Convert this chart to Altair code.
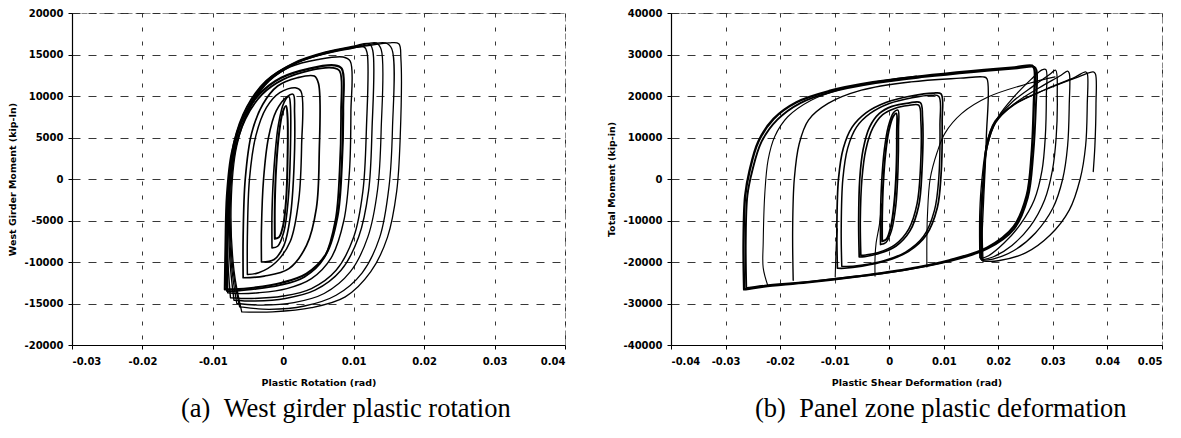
import altair as alt
import pandas as pd

# ---------------- Panel (a): West girder plastic rotation ----------------
A_X_TICKS = [-0.03, -0.02, -0.01, 0, 0.01, 0.02, 0.03, 0.04]
A_Y_TICKS = [-20000, -15000, -10000, -5000, 0, 5000, 10000, 15000, 20000]

A1_X = [-0.0012, -0.0012, -0.0010, -0.0006, -0.0001, 0.0004, 0.0006, 0.0006, 0.0004, 0.0000, -0.0006, -0.0012]
A1_Y = [-7200, -3000, 1500, 5500, 8000, 8800, 7500, 2000, -2500, -5500, -7000, -7200]
A2_X = [-0.0016, -0.0016, -0.0013, -0.0007, 0.0001, 0.0008, 0.0010, 0.0010, 0.0007, 0.0001, -0.0008, -0.0016]
A2_Y = [-8300, -4000, 1500, 6500, 9200, 9900, 9000, 3000, -2500, -6300, -8100, -8300]
A3_X = [-0.0031, -0.0031, -0.0028, -0.0021, -0.0010, 0.0005, 0.0014, 0.0016, 0.0015, 0.0010, 0.0001, -0.0013, -0.0031]
A3_Y = [-10000, -6000, 0, 5000, 8200, 9900, 10200, 8000, 1000, -4500, -8000, -9700, -10000]
A4_X = [-0.0051, -0.0051, -0.0048, -0.0039, -0.0024, -0.0005, 0.0017, 0.0025, 0.0026, 0.0022, 0.0010, -0.0010, -0.0035, -0.0051]
A4_Y = [-11500, -7000, 0, 5200, 8600, 10400, 11000, 10600, 4000, -2500, -7500, -10000, -11300, -11500]
A5_X = [-0.0057, -0.0057, -0.0054, -0.0045, -0.0029, -0.0008, 0.0020, 0.0044, 0.0050, 0.0051, 0.0047, 0.0033, 0.0008, -0.0027, -0.0057]
A5_Y = [-11900, -7000, 0, 5500, 9000, 11200, 12200, 12400, 11500, 3000, -3500, -8000, -10800, -11700, -11900]
A6_X = [-0.0083, -0.0082, -0.0080, -0.0073, -0.0057, -0.0033, -0.0003, 0.0037, 0.0072, 0.0083, 0.0085, 0.0083, 0.0077, 0.0061, 0.0033, -0.0002, -0.0042, -0.0071, -0.0083]
A6_Y = [-13300, -8000, -2000, 3200, 7400, 10300, 12200, 13300, 13700, 13300, 8500, 1500, -4500, -9000, -11400, -12500, -13100, -13300, -13300]
A7_X = [-0.0080, -0.0080, -0.0078, -0.0070, -0.0054, -0.0030, 0.0000, 0.0038, 0.0070, 0.0080, 0.0082, 0.0080, 0.0074, 0.0058, 0.0030, -0.0005, -0.0045, -0.0070, -0.0080]
A7_Y = [-13500, -8500, -2500, 3000, 7200, 10200, 12000, 13100, 13400, 13000, 8000, 1000, -5000, -9500, -11800, -12800, -13300, -13500, -13500]
A8_X = [-0.0079, -0.0079, -0.0077, -0.0068, -0.0050, -0.0025, 0.0010, 0.0050, 0.0085, 0.0095, 0.0096, 0.0094, 0.0086, 0.0068, 0.0040, 0.0005, -0.0035, -0.0065, -0.0079]
A8_Y = [-13700, -8000, -1000, 4500, 8500, 11500, 13500, 14400, 14700, 14200, 8000, 1000, -5000, -9500, -12000, -13200, -13700, -13800, -13700]
A9_X = [-0.0075, -0.0079, -0.0078, -0.0070, -0.0052, -0.0025, 0.0012, 0.0055, 0.0095, 0.0115, 0.0119, 0.0118, 0.0113, 0.0100, 0.0075, 0.0040, 0.0000, -0.0045, -0.0075]
A9_Y = [-14300, -9000, -1500, 4500, 8700, 11800, 13800, 15000, 15700, 15900, 15200, 6000, -1500, -7000, -11000, -13200, -14100, -14400, -14300]
A10_X = [-0.0070, -0.0076, -0.0077, -0.0069, -0.0051, -0.0023, 0.0015, 0.0060, 0.0100, 0.0122, 0.0127, 0.0126, 0.0121, 0.0107, 0.0082, 0.0045, 0.0003, -0.0040, -0.0070]
A10_Y = [-14600, -9500, -1500, 4500, 8700, 11900, 14000, 15300, 16000, 16300, 15500, 6000, -1500, -7000, -11000, -13400, -14400, -14700, -14600]
A11_X = [-0.0066, -0.0074, -0.0076, -0.0068, -0.0050, -0.0022, 0.0017, 0.0062, 0.0105, 0.0132, 0.0139, 0.0139, 0.0134, 0.0120, 0.0095, 0.0058, 0.0015, -0.0030, -0.0066]
A11_Y = [-15000, -10000, -2000, 4300, 8600, 11900, 14000, 15300, 16000, 16400, 15600, 6000, -1200, -7000, -11200, -13800, -14900, -15200, -15000]
A12_X = [-0.0062, -0.0072, -0.0075, -0.0067, -0.0049, -0.0021, 0.0018, 0.0065, 0.0110, 0.0145, 0.0154, 0.0155, 0.0150, 0.0137, 0.0112, 0.0075, 0.0030, -0.0020, -0.0062]
A12_Y = [-15400, -10500, -2500, 4000, 8400, 11800, 14000, 15300, 16000, 16400, 15700, 6000, -1000, -7000, -11300, -14000, -15300, -15700, -15400]
A13_X = [-0.0059, -0.0070, -0.0074, -0.0066, -0.0048, -0.0020, 0.0020, 0.0068, 0.0115, 0.0150, 0.0164, 0.0167, 0.0166, 0.0161, 0.0148, 0.0124, 0.0088, 0.0040, -0.0015, -0.0059]
A13_Y = [-16000, -11000, -3000, 4000, 8400, 11800, 14000, 15300, 16000, 16400, 16300, 14500, 5000, -1500, -7000, -11200, -14200, -15500, -16000, -16000]

A_LOOPS = [
    ("a1", 2.0, A1_X, A1_Y), ("a2", 1.6, A2_X, A2_Y), ("a3", 1.6, A3_X, A3_Y),
    ("a4", 1.5, A4_X, A4_Y), ("a5", 1.7, A5_X, A5_Y), ("a6", 2.2, A6_X, A6_Y),
    ("a7", 1.8, A7_X, A7_Y), ("a8", 1.4, A8_X, A8_Y), ("a9", 1.4, A9_X, A9_Y),
    ("a10", 1.4, A10_X, A10_Y), ("a11", 1.3, A11_X, A11_Y), ("a12", 1.3, A12_X, A12_Y),
    ("a13", 1.3, A13_X, A13_Y),
]

# ---------------- Panel (b): Panel zone plastic deformation ----------------
B_X_TICKS = [-0.04, -0.03, -0.02, -0.01, 0, 0.01, 0.02, 0.03, 0.04, 0.05]
B_Y_TICKS = [-40000, -30000, -20000, -10000, 0, 10000, 20000, 30000, 40000]

B1_X = [-0.0013, -0.0013, -0.0011, -0.0007, -0.0001, 0.0007, 0.0013, 0.0014, 0.0013, 0.0009, 0.0003, -0.0005, -0.0013]
B1_Y = [-15000, -9000, -1000, 6000, 11500, 15000, 15800, 11000, 2000, -6000, -11500, -14500, -15000]
B2_X = [-0.0016, -0.0016, -0.0014, -0.0009, -0.0002, 0.0008, 0.0016, 0.0017, 0.0016, 0.0012, 0.0004, -0.0006, -0.0016]
B2_Y = [-15800, -9000, -1000, 7000, 12500, 16000, 16600, 12000, 2000, -6500, -12500, -15300, -15800]
B3_X = [-0.0055, -0.0056, -0.0054, -0.0048, -0.0036, -0.0018, 0.0005, 0.0035, 0.0057, 0.0061, 0.0060, 0.0054, 0.0038, 0.0012, -0.0020, -0.0045, -0.0055]
B3_Y = [-18800, -10000, 0, 7000, 12500, 15800, 17500, 18300, 18400, 15000, 2000, -6500, -12500, -16200, -18000, -18700, -18800]
B4_X = [-0.0052, -0.0053, -0.0050, -0.0043, -0.0030, -0.0012, 0.0010, 0.0035, 0.0054, 0.0058, 0.0057, 0.0051, 0.0036, 0.0011, -0.0020, -0.0043, -0.0052]
B4_Y = [-18400, -10000, 0, 7000, 12300, 15500, 17000, 17700, 17800, 14000, 2000, -6000, -12000, -15800, -17700, -18300, -18400]
B5_X = [-0.0095, -0.0096, -0.0093, -0.0084, -0.0068, -0.0042, -0.0005, 0.0040, 0.0080, 0.0095, 0.0097, 0.0095, 0.0088, 0.0068, 0.0035, -0.0005, -0.0050, -0.0082, -0.0095]
B5_Y = [-21500, -12000, 0, 7500, 12500, 16000, 18500, 20000, 20700, 20500, 14000, 1000, -7000, -13500, -17500, -19700, -21000, -21500, -21500]
B6_X = [-0.0087, -0.0088, -0.0085, -0.0076, -0.0060, -0.0035, 0.0000, 0.0042, 0.0078, 0.0091, 0.0093, 0.0091, 0.0083, 0.0063, 0.0030, -0.0010, -0.0052, -0.0078, -0.0087]
B6_Y = [-21000, -12000, 0, 7500, 12500, 15800, 18200, 19600, 20200, 19900, 13000, 500, -7500, -13800, -17600, -19700, -20800, -21100, -21000]
B7_X = [-0.0176, -0.0177, -0.0174, -0.0165, -0.0148, -0.0112, -0.0051, 0.0040, 0.0130, 0.0172, 0.0179, 0.0178, 0.0173, 0.0168]
B7_Y = [-24400, -12000, 0, 8500, 14200, 18200, 21400, 23400, 24300, 24600, 24200, 10000, -5000, -19300]
B8_X = [-0.0266, -0.0267, -0.0264, -0.0256, -0.0240, -0.0212, -0.0170, -0.0110, -0.0030, 0.0060, 0.0150, 0.0230, 0.0262, 0.0266, 0.0265, 0.0261, 0.0252, 0.0228, 0.0180, 0.0110, 0.0030, -0.0060, -0.0150, -0.0230, -0.0260, -0.0266]
B8_Y = [-26600, -15000, -4000, 2000, 9000, 14500, 18500, 21200, 23300, 24800, 26000, 26900, 27300, 26500, 18000, 6000, -4000, -11500, -16500, -19600, -21800, -23500, -24900, -25900, -26500, -26600]
B9_X = [-0.0262, -0.0263, -0.0260, -0.0251, -0.0234, -0.0205, -0.0163, -0.0105, -0.0025, 0.0065, 0.0155, 0.0235, 0.0266, 0.0270, 0.0269, 0.0264, 0.0254, 0.0229, 0.0180, 0.0110, 0.0030, -0.0060, -0.0150, -0.0228, -0.0256, -0.0262]
B9_Y = [-26300, -15000, -4000, 2000, 9000, 14300, 18300, 21000, 23100, 24600, 25800, 26700, 27000, 26200, 18000, 6000, -4500, -12000, -16800, -19800, -21900, -23500, -24800, -25700, -26200, -26300]
S0_X = [0.0166, 0.0166, 0.0170, 0.0180, 0.0200, 0.0230, 0.0260, 0.0280, 0.0287, 0.0288, 0.0286, 0.0280, 0.0266, 0.0240, 0.0210, 0.0182, 0.0168]
S0_Y = [-19000, -8000, 0, 9000, 15000, 20000, 24000, 26300, 26400, 20000, 10000, 2000, -5000, -11000, -15500, -18500, -19200]
S1_X = [0.0168, 0.0168, 0.0172, 0.0180, 0.0196, 0.0225, 0.0265, 0.0295, 0.0305, 0.0308, 0.0306, 0.0299, 0.0285, 0.0258, 0.0225, 0.0190, 0.0170]
S1_Y = [-19300, -8000, 0, 8000, 14000, 18500, 22500, 25300, 26200, 20000, 10000, 2000, -5000, -11500, -16000, -18800, -19500]
S2_X = [0.0170, 0.0169, 0.0173, 0.0180, 0.0195, 0.0228, 0.0275, 0.0315, 0.0327, 0.0330, 0.0330, 0.0327, 0.0318, 0.0300, 0.0268, 0.0228, 0.0190, 0.0170]
S2_Y = [-19500, -8000, 0, 8000, 13500, 18000, 22000, 25000, 26000, 25500, 18000, 8000, 0, -7000, -13000, -17300, -19300, -19600]
S3_X = [0.0170, 0.0169, 0.0173, 0.0178, 0.0193, 0.0228, 0.0285, 0.0340, 0.0360, 0.0363, 0.0363, 0.0360, 0.0350, 0.0330, 0.0295, 0.0250, 0.0200, 0.0172]
S3_Y = [-19600, -8000, 0, 8000, 13500, 17800, 21500, 24500, 25800, 25400, 18000, 8000, 0, -7500, -13500, -17800, -19700, -19800]
S4_X = [0.0172, 0.0170, 0.0174, 0.0178, 0.0194, 0.0231, 0.0286, 0.0347, 0.0374, 0.0378, 0.0379, 0.0377, 0.0374]
S4_Y = [-19800, -8000, 0, 8000, 14000, 18200, 21500, 24600, 25800, 25300, 18000, 8000, 1800]
P1_X = [-0.0222, -0.0231, -0.0231, -0.0228, -0.0222, -0.0210, -0.0186, -0.0143, -0.0094, -0.0030, 0.0050]
P1_Y = [-25900, -21400, -15400, -3400, 4600, 10200, 15000, 19000, 21400, 23300, 24800]
P2_X = [-0.0099, -0.0098, -0.0097, -0.0095]
P2_Y = [-23600, -19000, -15400, -12000]
P3_X = [-0.0026, -0.0026, -0.0024, -0.0018, -0.0014]
P3_Y = [-23400, -19000, -15400, -11000, -6000]
P4_X = [0.0069, 0.0069, 0.0070, 0.0075, 0.0088, 0.0102, 0.0133, 0.0182, 0.0255, 0.0304]
P4_Y = [-21200, -15000, -9000, 0, 6500, 11000, 15800, 19800, 23000, 24600]

B_LOOPS = [
    ("b1", 2.0, B1_X, B1_Y), ("b2", 1.6, B2_X, B2_Y), ("b3", 1.7, B3_X, B3_Y),
    ("b4", 1.6, B4_X, B4_Y), ("b5", 1.7, B5_X, B5_Y), ("b6", 1.5, B6_X, B6_Y),
    ("b7", 1.4, B7_X, B7_Y), ("b8", 2.4, B8_X, B8_Y), ("b9", 1.9, B9_X, B9_Y),
    ("s0", 1.3, S0_X, S0_Y), ("s1", 1.3, S1_X, S1_Y), ("s2", 1.3, S2_X, S2_Y),
    ("s3", 1.3, S3_X, S3_Y), ("s4", 1.3, S4_X, S4_Y),
    ("p1", 1.1, P1_X, P1_Y), ("p2", 1.1, P2_X, P2_Y), ("p3", 1.1, P3_X, P3_Y),
    ("p4", 1.1, P4_X, P4_Y),
]


def build(loops):
    rows = []
    for name, w, xs, ys in loops:
        for i, (x, y) in enumerate(zip(xs, ys)):
            rows.append({"loop": name, "w": w, "i": i, "x": x, "y": y})
    return pd.DataFrame(rows)


LABEL_FONT = "DejaVu Sans"
NBSP = "\u00a0"


def panel(df, xdom, xvals, ydom, yvals, xtitle, ytitle, caption, cap_dx, width):
    return alt.Chart(df).mark_line(
        interpolate="catmull-rom", color="black", strokeCap="round", strokeJoin="round", clip=True
    ).encode(
        x=alt.X("x:Q", scale=alt.Scale(domain=xdom, nice=False, zero=False),
                axis=alt.Axis(values=xvals, title=xtitle, labelExpr="'' + datum.value",
                              gridDash=[4, 10], gridColor="#222", gridWidth=1,
                              labelPadding=7, titlePadding=11)),
        y=alt.Y("y:Q", scale=alt.Scale(domain=ydom, nice=False, zero=False),
                axis=alt.Axis(values=yvals, title=ytitle, labelExpr="'' + datum.value",
                              gridDash=[8, 8], gridColor="#222", gridWidth=1,
                              labelPadding=5, titlePadding=7)),
        detail="loop:N",
        order="i:Q",
        strokeWidth=alt.StrokeWidth("w:Q", scale=None),
    ).properties(
        width=width, height=332,
        title=alt.TitleParams(caption, orient="bottom", anchor="start", frame="group", dx=cap_dx,
                              font="Liberation Serif", fontSize=26.5, fontWeight="normal",
                              color="black", offset=9),
    )


left = panel(build(A_LOOPS), [-0.03, 0.04], A_X_TICKS, [-20000, 20000], A_Y_TICKS,
             "Plastic Rotation (rad)", "West Girder Moment (kip-In)",
             "(a)" + NBSP + NBSP + "West girder plastic rotation", 109, 493)
right = panel(build(B_LOOPS), [-0.04, 0.05], B_X_TICKS, [-40000, 40000], B_Y_TICKS,
              "Plastic Shear Deformation (rad)", "Total Moment (kip-in)",
              "(b)" + NBSP + NBSP + "Panel zone plastic deformation", 84, 491)

chart = alt.hconcat(left, right, spacing=106, bounds="flush").properties(
    padding={"left": -2, "top": -1, "right": 0, "bottom": 0},
    background="white",
).configure_view(
    stroke="#888", strokeDash=[6, 3], strokeWidth=1
).configure_axis(
    domainColor="black", domainWidth=1.2, tickColor="black", tickSize=4,
    gridColor="#222", gridWidth=1, gridOpacity=0.9,
    labelFont=LABEL_FONT, labelFontWeight="bold", labelFontSize=10, labelColor="black",
    titleFont=LABEL_FONT, titleFontWeight="bold", titleFontSize=9.5, titleColor="black",
)

chart.save("out.html", embed_options={"renderer": "svg", "actions": False})
